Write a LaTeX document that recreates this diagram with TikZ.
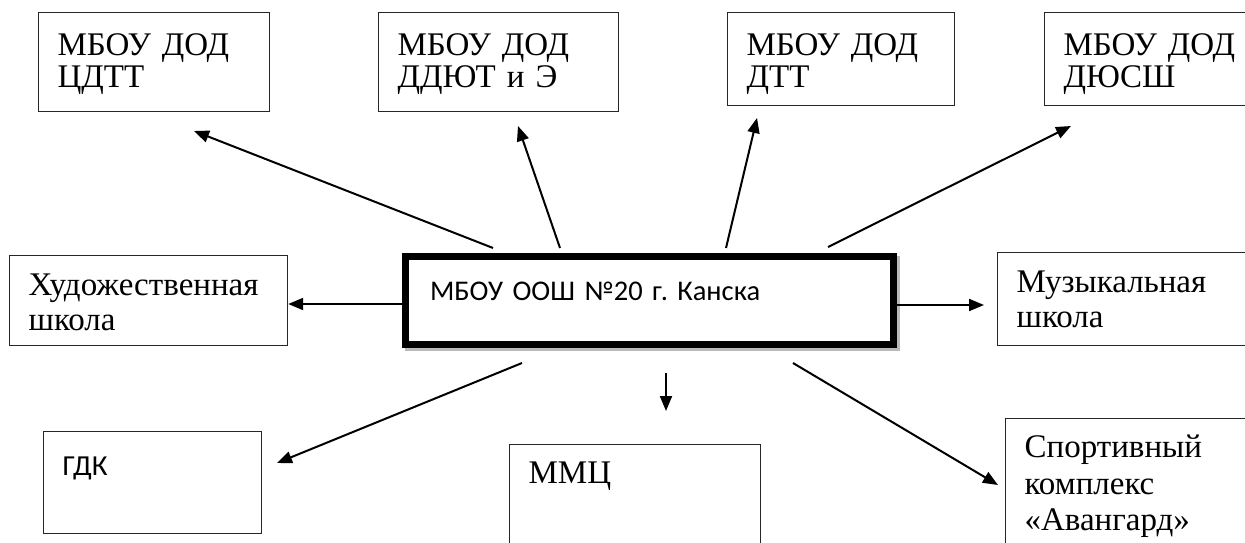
\documentclass[tikz,border=0pt]{standalone}
\usepackage{fontspec}
\setmainfont{Liberation Serif}
\newfontfamily\calfont{Carlito}
\usetikzlibrary{arrows.meta,backgrounds}
\frenchspacing
\begin{document}
\begin{tikzpicture}[x=1pt,y=-1pt,
  box/.style={draw=black!85, line width=1.2pt, rectangle, anchor=north west, align=left,
    inner xsep=19pt, inner ysep=0pt, font=\fontsize{33}{32}\selectfont},
  wide/.style={font=\fontsize{33}{35}\selectfont},
  sans/.style={font=\calfont\fontsize{29}{32}\selectfont},
  mainbox/.style={draw=black, fill=white, line width=7pt, rectangle, anchor=north west, align=left,
    inner xsep=24.5pt, inner ysep=0pt, font=\calfont\fontsize{28.5}{32}\selectfont},
  arr/.style={line width=2pt, -{Triangle[length=15pt,width=12pt]}},
]
\useasboundingbox (0,0) rectangle (1245,543);
\clip (0,0) rectangle (1245,543);

% outer boxes
\node[box, text width=193pt, text height=43pt, text depth=56pt] (n1) at (38,12) {МБОУ ДОД\\ЦДТТ};
\node[box, text width=202pt, text height=43pt, text depth=56pt] (n2) at (378,12) {МБОУ ДОД\\ДДЮТ и Э};
\node[box, text width=189pt, text height=43pt, text depth=50pt] (n3) at (727,12) {МБОУ ДОД\\ДТТ};
\node[box, text width=192pt, text height=43pt, text depth=50pt] (n4) at (1044,12) {МБОУ ДОД\\ДЮСШ};
\node[box, wide, text width=240pt, text height=40pt, text depth=50pt] (n5) at (9,255) {Художественная\\школа};
\node[box, wide, text width=222pt, text height=40pt, text depth=53pt] (n6) at (997,252) {Музыкальная\\школа};
\node[box, sans, text width=180pt, text height=44pt, text depth=58pt] (n7) at (43,431) {ГДК};
\node[box, text width=213pt, text height=39pt, text depth=81pt] (n8) at (509,444) {ММЦ};
\node[box, font=\fontsize{33}{36.5}\selectfont, text width=222pt, text height=39pt, text depth=101pt] (n9) at (1005,418) {Спортивный\\комплекс\\«Авангард»};

% central box
\node[mainbox, text width=439pt, text height=43.5pt, text depth=44.5pt] (c) at (402,253) {МБОУ ООШ №20 г. Канска};
\begin{scope}[on background layer]
  \draw[gray!55, line width=7pt] ([shift={(6.5,6.5)}]c.north west) rectangle ([shift={(-0.5,-0.5)}]c.south east);
\end{scope}

% arrow end points
\coordinate (s1) at (493,248);   \coordinate (e1) at (194,131);
\coordinate (s2) at (560,248);   \coordinate (e2) at (518,126);
\coordinate (s3) at (726,248);   \coordinate (e3) at (757,118);
\coordinate (s4) at (828,247);   \coordinate (e4) at (1071,126);
\coordinate (s7) at (522,363);   \coordinate (e7) at (277,463);
\coordinate (s8) at (666,373);   \coordinate (e8) at (666,411);
\coordinate (s9) at (793,363);   \coordinate (e9) at (998,485);

\draw[arr] (s1) -- (e1);
\draw[arr] (s2) -- (e2);
\draw[arr] (s3) -- (e3);
\draw[arr] (s4) -- (e4);
\draw[arr] ([yshift=-3.5pt]c.west) -- ([yshift=-3.5pt]c.west -| n5.east);
\draw[arr, shorten >=13pt] ([yshift=-4.5pt]c.east) -- ([yshift=-4.5pt]c.east -| n6.west);
\draw[arr] (s7) -- (e7);
\draw[arr] (s8) -- (e8);
\draw[arr] (s9) -- (e9);
\end{tikzpicture}
\end{document}
